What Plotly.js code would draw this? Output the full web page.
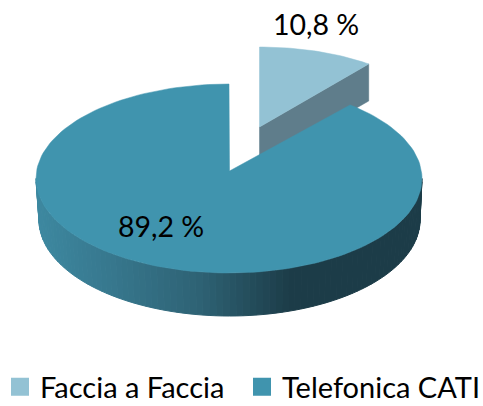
<!DOCTYPE html>
<html>
<head>
<meta charset="utf-8">
<script src="https://cdn.plot.ly/plotly-3.0.1.min.js"></script>
<style>html,body{margin:0;padding:0;background:#fff}#c{width:483px;height:406px}</style>
</head>
<body>
<div id="c"></div>
<script>
var categories = ['Faccia a Faccia', 'Telefonica CATI'];
var values = [10.8, 89.2];
var topColors = ['#93C2D4', '#4094AE'];
var cutColor = '#5F7D8B';
var rimStops = [[39, [61,136,160]], [110, [55,120,142]], [200, [46,98,116]], [290, [28,60,72]], [420, [28,60,72]]];

var total = values[0] + values[1];
var sweep = values[0] / total * 2 * Math.PI;

function pt(e, a) { return [e.cx + e.rx * Math.sin(a), e.cy - e.ry * Math.cos(a)]; }
function arc(e, a0, a1, n) {
  var p = [];
  for (var i = 0; i <= n; i++) p.push(pt(e, a0 + (a1 - a0) * i / n));
  return p;
}
function poly(pts, color, lw) {
  return {
    type: 'scatter', mode: 'lines', fill: 'toself', fillcolor: color,
    x: pts.map(function (p) { return p[0]; }).concat([pts[0][0]]),
    y: pts.map(function (p) { return p[1]; }).concat([pts[0][1]]),
    line: { color: color, width: lw === undefined ? 0.5 : lw },
    hoverinfo: 'skip', showlegend: false
  };
}
function rimColor(x) {
  for (var i = 1; i < rimStops.length; i++) {
    if (x <= rimStops[i][0] || i === rimStops.length - 1) {
      var a = rimStops[i - 1], b = rimStops[i];
      var t = Math.max(0, Math.min(1, (x - a[0]) / (b[0] - a[0])));
      return 'rgb(' + [0, 1, 2].map(function (k) { return Math.round(a[1][k] + (b[1][k] - a[1][k]) * t); }).join(',') + ')';
    }
  }
}

var smallTop = { cx: 259.5, cy: 123.6, rx: 174, ry: 76.6 };
var smallApex = [259.5, 127];
var smallDepth = 37;
var bigTop = { cx: 229, cy: 178.5, rx: 193, ry: 94.5 };
var bigBottom = { cx: 229.5, cy: 220, rx: 190.5, ry: 96 };
var bigApex = [229.5, 171];

var traces = [];

var se = pt(smallTop, sweep);
traces.push(poly([smallApex, se, [se[0], se[1] + smallDepth], [smallApex[0], smallApex[1] + smallDepth]], cutColor));
traces.push(poly([smallApex].concat(arc(smallTop, 0, sweep, 30)), topColors[0]));

var N = 90;
for (var i = 0; i < N; i++) {
  var a0 = Math.PI / 2 + Math.PI * i / N, a1 = Math.PI / 2 + Math.PI * (i + 1) / N;
  var p0 = pt(bigTop, a0), p1 = pt(bigTop, a1), q0 = pt(bigBottom, a0), q1 = pt(bigBottom, a1);
  traces.push(poly([p0, p1, q1, q0], rimColor((q0[0] + q1[0]) / 2), 1));
}
traces.push(poly([bigApex].concat(arc(bigTop, sweep, 2 * Math.PI, 160)), topColors[1]));

categories.forEach(function (name, k) {
  traces.push({
    type: 'scatter', mode: 'markers', x: [null], y: [null], name: name,
    legend: k === 0 ? 'legend' : 'legend2',
    marker: { symbol: 'square', size: 16, color: topColors[k], line: { color: topColors[k], width: 2 } },
    hoverinfo: 'skip'
  });
});

function label(v) { return v.toFixed(1).replace('.', ',') + ' %'; }
var labelFont = { family: 'Lato, "Open Sans", sans-serif', size: 28.5, color: '#000' };
var legendFont = { family: 'Lato, "Open Sans", sans-serif', size: 29, color: '#000' };
function legendAt(px) {
  return {
    orientation: 'h', x: px / 483, xanchor: 'left', y: 0.047, yanchor: 'middle',
    font: legendFont, bgcolor: 'rgba(0,0,0,0)', itemwidth: 30
  };
}

var layout = {
  width: 483, height: 406,
  margin: { l: 0, r: 0, t: 0, b: 0, autoexpand: false },
  paper_bgcolor: '#fff', plot_bgcolor: '#fff',
  xaxis: { range: [0, 483], visible: false, fixedrange: true },
  yaxis: { range: [406, 0], visible: false, fixedrange: true },
  showlegend: true,
  legend: legendAt(0),
  legend2: legendAt(242),
  annotations: [
    { x: 315.5, y: 24, xref: 'x', yref: 'y', text: label(values[0]), showarrow: false, font: labelFont },
    { x: 161, y: 225.5, xref: 'x', yref: 'y', text: label(values[1]), showarrow: false, font: labelFont }
  ]
};
Plotly.newPlot('c', traces, layout, { displayModeBar: false, staticPlot: true });
</script>
</body>
</html>
